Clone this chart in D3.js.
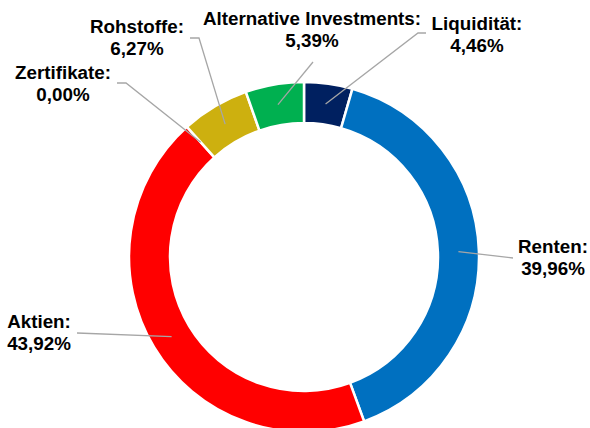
<!DOCTYPE html>
<html>
<head>
<meta charset="utf-8">
<script src="https://cdn.jsdelivr.net/npm/d3@7"></script>
<style>
  body { margin: 0; background: #fff; }
  svg { display: block; }
  text { font-family: "Liberation Sans", Arial, sans-serif; font-weight: bold; font-size: 18.8px; fill: #000; }
</style>
</head>
<body>
<svg id="chart"></svg>
<script>
// anteile in prozent, im uhrzeigersinn ab 12 uhr
var categories = ["Liquidität", "Renten", "Aktien", "Zertifikate", "Rohstoffe", "Alternative Investments"];
var values = [4.46, 39.96, 43.92, 0.00, 6.27, 5.39];
var colors = ["#002060", "#0070C0", "#FF0000", "#7F7F7F", "#CDB00F", "#00B050"];

var screen = {width: 590, height: 428};
var cx = 304, cy = 257;
var outerR = 175, innerR = 134;

// label layout: text centre, first baseline, end of leader line (+ optional elbow)
var labelPos = [
  {x: 477, y: 30, line: [[418, 33], [426, 33]]},
  {x: 553, y: 253, line: [[513, 258]]},
  {x: 39, y: 328, line: [[77, 333]]},
  {x: 63, y: 79, line: [[126, 83], [117, 83]]},
  {x: 137, y: 33, line: [[199, 38], [190, 38]]},
  {x: 312, y: 25, line: [[313, 62]]}
];

var svg = d3.select("#chart")
  .attr("width", screen.width)
  .attr("height", screen.height);

var data = categories.map(function(c, i) { return {name: c, value: values[i], color: colors[i]}; });

var pie = d3.pie().sort(null).value(function(d) { return d.value; });
var arc = d3.arc().innerRadius(innerR).outerRadius(outerR);
var midArc = d3.arc().innerRadius((innerR + outerR) / 2).outerRadius((innerR + outerR) / 2);

var g = svg.append("g").attr("transform", "translate(" + cx + "," + cy + ")");
var arcs = pie(data);

g.selectAll("path.slice")
  .data(arcs.filter(function(d) { return d.data.value > 0; }))
  .enter().append("path")
  .attr("class", "slice")
  .attr("d", arc)
  .style("fill", function(d) { return d.data.color; })
  .style("stroke", "#fff")
  .style("stroke-width", 2.5);

var fmt = function(v) { return v.toFixed(2).replace(".", ",") + "%"; };

// leader lines
svg.selectAll("polyline.leader")
  .data(arcs)
  .enter().append("polyline")
  .attr("class", "leader")
  .attr("points", function(d, i) {
    var c = midArc.centroid(d);
    var pts = [[c[0] + cx, c[1] + cy]].concat(labelPos[i].line);
    return pts.map(function(p) { return p.join(","); }).join(" ");
  })
  .style("fill", "none")
  .style("stroke", "#A6A6A6")
  .style("stroke-width", 1.3);

// labels
var labels = svg.selectAll("text.lbl")
  .data(arcs)
  .enter().append("text")
  .attr("class", "lbl")
  .attr("text-anchor", "middle");

labels.append("tspan")
  .attr("x", function(d, i) { return labelPos[i].x; })
  .attr("y", function(d, i) { return labelPos[i].y; })
  .text(function(d) { return d.data.name + ":"; });

labels.append("tspan")
  .attr("x", function(d, i) { return labelPos[i].x; })
  .attr("y", function(d, i) { return labelPos[i].y + 21.5; })
  .text(function(d) { return fmt(d.data.value); });
</script>
</body>
</html>
